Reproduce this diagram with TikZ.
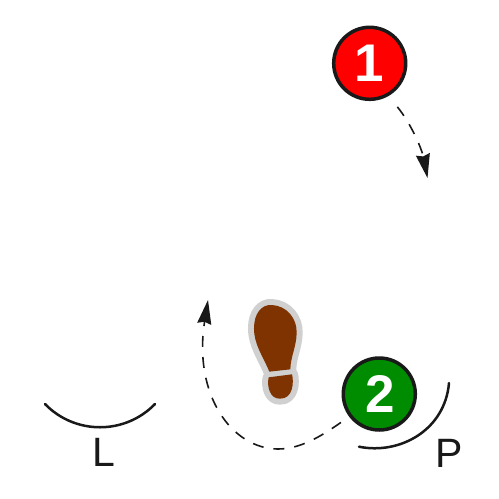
\documentclass[tikz,border=0pt]{standalone}
\usepackage{fontspec}
\setmainfont{Liberation Sans}
\usetikzlibrary{arrows.meta}
\definecolor{soleb}{RGB}{127,51,0}
\definecolor{soleg}{RGB}{208,208,208}
\definecolor{disc1}{RGB}{255,0,0}
\definecolor{disc2}{RGB}{0,140,0}
\tikzset{
  disc/.style={circle,draw=black!90,line width=3.5pt,minimum size=72pt,inner sep=0pt,text=white,font=\fontsize{53}{53}\selectfont\bfseries},
  flow/.style={draw=black!90,line width=1.6pt,dash pattern=on 11pt off 10pt,-{Stealth[length=24pt,width=14pt,inset=2pt]}},
  wall/.style={draw=black!90,line width=2.5pt,line cap=round},
  side/.style={text=black!90,inner sep=0pt,font=\fontsize{41}{41}\selectfont},
}
\begin{document}
\begin{tikzpicture}[x=1pt,y=-1pt]
\useasboundingbox (0,0) rectangle (499,499);
\def\solepath{(268,245) .. controls (250,200) and (222,165) .. (222,115) .. controls (222,70) and (245,43) .. (275,45) .. controls (320,47) and (352,85) .. (350,130) .. controls (349,170) and (332,200) .. (331,238) -- cycle}
\def\heelpath{(266,262) -- (336,253) .. controls (342,275) and (340,327) .. (300,326) .. controls (270,327) and (260,290) .. (266,262) -- cycle}
\begin{scope}[shift={(180,290)},x=0.3333pt,y=-0.3333pt]
  \draw[soleg,line width=12pt,line join=round,fill=soleg] \solepath;
  \draw[soleg,line width=12pt,line join=round,fill=soleg] \heelpath;
  \fill[soleb] \solepath;
  \fill[soleb] \heelpath;
\end{scope}
\node[disc,fill=disc1] (one) at (369.7,63.3) {1};
\node[disc,fill=disc2] (two) at (379.3,394) {\hspace{1.5pt}2};
\coordinate (endone) at (427.5,178);
\coordinate (endtwo) at (208,300);
\coordinate (bendtwo) at (278,449);
\draw[flow,shorten <=14pt] (one.-60) .. controls (412,125) and (422,150) .. (endone);
\draw[flow,shorten <=10pt] (two.217) .. controls (320,437) and (300,449) .. (bendtwo) .. controls (232,449) and (193,395) .. (endtwo);
\coordinate (la) at (45,404);
\coordinate (lb) at (155,404);
\coordinate (pa) at (359,446.7);
\coordinate (pb) at (449,383);
\draw[wall] (la) .. controls (75,435) and (125,435) .. (lb);
\draw[wall] (pa) .. controls (400,455) and (445,430) .. (pb);
\node[side] (labl) at (104,452) {L};
\node[side] (labp) at (449.5,453.5) {P};
\end{tikzpicture}
\end{document}
